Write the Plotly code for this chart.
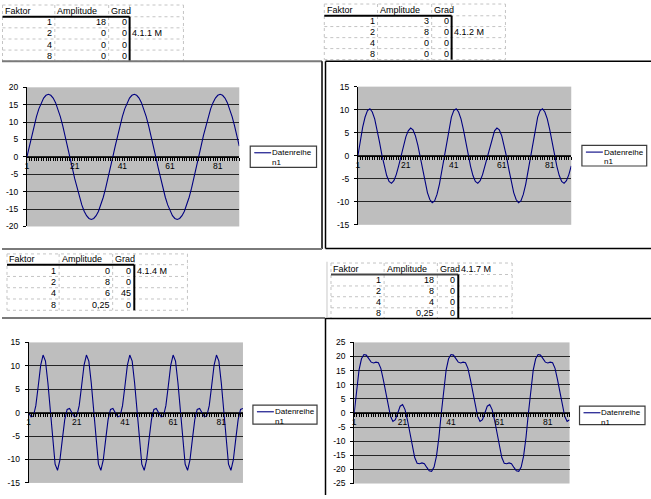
import plotly.graph_objects as go

W, H = 651, 499
SCHRIFT = "Liberation Sans, Arial, sans-serif"


def px(x):
    return x / W


def py(y):
    return 1 - y / H


# Kategorien (Messpunkte) und Achsenbeschriftungen
kategorien = list(range(1, 91))
x_ticks = [1, 21, 41, 61, 81]

y_ticks_411 = [-20, -15, -10, -5, 0, 5, 10, 15, 20]
y_ticks_412 = [-15, -10, -5, 0, 5, 10, 15]
y_ticks_414 = [-15, -10, -5, 0, 5, 10, 15]
y_ticks_417 = [-25, -20, -15, -10, -5, 0, 5, 10, 15, 20, 25]

reihe_411 = [
    0, 3.1, 6.2, 9.0, 11.6, 13.8, 15.6, 16.9, 17.7, 18.0, 17.7, 16.9, 15.6, 13.8, 11.6, 9.0, 6.2, 3.1,
    0, -3.1, -6.2, -9.0, -11.6, -13.8, -15.6, -16.9, -17.7, -18.0, -17.7, -16.9, -15.6, -13.8, -11.6, -9.0, -6.2, -3.1,
    0, 3.1, 6.2, 9.0, 11.6, 13.8, 15.6, 16.9, 17.7, 18.0, 17.7, 16.9, 15.6, 13.8, 11.6, 9.0, 6.2, 3.1,
    0, -3.1, -6.2, -9.0, -11.6, -13.8, -15.6, -16.9, -17.7, -18.0, -17.7, -16.9, -15.6, -13.8, -11.6, -9.0, -6.2, -3.1,
    0, 3.1, 6.2, 9.0, 11.6, 13.8, 15.6, 16.9, 17.7, 18.0, 17.7, 16.9, 15.6, 13.8, 11.6, 9.0, 6.2, 3.1,
]
reihe_412 = [
    0, 3.3, 6.2, 8.4, 9.8, 10.2, 9.5, 8.0, 5.7, 3.0, 0.2, -2.3, -4.3, -5.6, -6.0, -5.4, -4.1, -2.2,
    0, 2.2, 4.1, 5.4, 6.0, 5.6, 4.3, 2.3, -0.2, -3.0, -5.7, -8.0, -9.5, -10.2, -9.8, -8.4, -6.2, -3.3,
    0, 3.3, 6.2, 8.4, 9.8, 10.2, 9.5, 8.0, 5.7, 3.0, 0.2, -2.3, -4.3, -5.6, -6.0, -5.4, -4.1, -2.2,
    0, 2.2, 4.1, 5.4, 6.0, 5.6, 4.3, 2.3, -0.2, -3.0, -5.7, -8.0, -9.5, -10.2, -9.8, -8.4, -6.2, -3.3,
    0, 3.3, 6.2, 8.4, 9.8, 10.2, 9.5, 8.0, 5.7, 3.0, 0.2, -2.3, -4.3, -5.6, -6.0, -5.4, -4.1, -2.2,
]
reihe_414 = [
    0, -0.9, -0.7, 1.5, 5.7, 10.1, 12.3, 11.0, 6.4, 0, -6.4, -11.0, -12.3, -10.1, -5.7, -1.5, 0.7, 0.9,
    0, -0.9, -0.7, 1.5, 5.7, 10.1, 12.3, 11.0, 6.4, 0, -6.4, -11.0, -12.3, -10.1, -5.7, -1.5, 0.7, 0.9,
    0, -0.9, -0.7, 1.5, 5.7, 10.1, 12.3, 11.0, 6.4, 0, -6.4, -11.0, -12.3, -10.1, -5.7, -1.5, 0.7, 0.9,
    0, -0.9, -0.7, 1.5, 5.7, 10.1, 12.3, 11.0, 6.4, 0, -6.4, -11.0, -12.3, -10.1, -5.7, -1.5, 0.7, 0.9,
    0, -0.9, -0.7, 1.5, 5.7, 10.1, 12.3, 11.0, 6.4, 0, -6.4, -11.0, -12.3, -10.1, -5.7, -1.5, 0.7, 0.9,
]
reihe_417 = [
    0, 8.7, 15.3, 19.2, 20.7, 20.5, 19.3, 18.0, 17.7, 18.0, 17.8, 15.8, 11.9, 7.1, 2.5, -1.2, -3.0, -2.4,
    0, 2.4, 3.0, 1.2, -2.5, -7.1, -11.9, -15.8, -17.8, -18.0, -17.7, -18.0, -19.3, -20.5, -20.7, -19.2, -15.3, -8.7,
    0, 8.7, 15.3, 19.2, 20.7, 20.5, 19.3, 18.0, 17.7, 18.0, 17.8, 15.8, 11.9, 7.1, 2.5, -1.2, -3.0, -2.4,
    0, 2.4, 3.0, 1.2, -2.5, -7.1, -11.9, -15.8, -17.8, -18.0, -17.7, -18.0, -19.3, -20.5, -20.7, -19.2, -15.3, -8.7,
    0, 8.7, 15.3, 19.2, 20.7, 20.5, 19.3, 18.0, 17.7, 18.0, 17.8, 15.8, 11.9, 7.1, 2.5, -1.2, -3.0, -2.4,
]
reihe_name = ["Datenreihe", "n1"]

# Tabellen
kopf = ["Faktor", "Amplitude", "Grad"]
faktor = [1, 2, 4, 8]
amplitude_411 = [18, 0, 0, 0]
grad_411 = [0, 0, 0, 0]
amplitude_412 = [3, 8, 0, 0]
grad_412 = [0, 0, 0, 0]
amplitude_414 = [0, 8, 6, 0.25]
grad_414 = [0, 0, 45, 0]
amplitude_417 = [18, 8, 4, 0.25]
grad_417 = [0, 0, 0, 0]
marken = ["4.1.1 M", "4.1.2 M", "4.1.4 M", "4.1.7 M"]

# Layout: Plotfläche (links, oben, rechts, unten) und Legendenbox in Pixeln
plotflaechen = [(25, 84, 238, 226), (357, 83.3, 571, 224.3),
                (26.7, 344.3, 241.7, 487.7), (353.3, 344.3, 569.3, 488.3)]
legenden = [(249, 144, 315.5, 165.7), (581.7, 143.3, 646.7, 164.3),
            (251.7, 408.3, 316, 427.7), (579.3, 409.3, 645, 428.3)]

fig = go.Figure()
shapes = []
annotations = []


def linie(x0, y0, x1, y1, farbe="black", breite=1, dash="solid"):
    shapes.append(dict(type="line", xref="paper", yref="paper",
                       x0=px(x0), y0=py(y0), x1=px(x1), y1=py(y1),
                       line=dict(color=farbe, width=breite, dash=dash)))


def text(t, x, y, xanchor="left", groesse=9):
    annotations.append(dict(text=t, x=px(x), y=py(y), xref="paper", yref="paper",
                            xanchor=xanchor, yanchor="middle", showarrow=False,
                            font=dict(family=SCHRIFT, size=groesse, color="black")))


def zahl(v):
    return str(v).replace(".", ",")


serien = [reihe_411, reihe_412, reihe_414, reihe_417]
y_achsen = [y_ticks_411, y_ticks_412, y_ticks_414, y_ticks_417]

for i, (werte, yt) in enumerate(zip(serien, y_achsen)):
    n = i + 1
    suffix = "" if n == 1 else str(n)
    l, t, r, b = plotflaechen[i]
    fig.add_trace(go.Scatter(x=kategorien, y=werte, mode="lines",
                             line=dict(color="#000080", width=1.1),
                             xaxis="x" + suffix, yaxis="y" + suffix,
                             showlegend=False, hoverinfo="skip"))
    mitte = (py(t) + py(b)) / 2
    fig.update_layout(**{
        "xaxis" + suffix: dict(
            domain=[px(l), px(r)], range=[1, 90], anchor="free", position=mitte,
            showgrid=False, zeroline=False, showline=True, linecolor="black", linewidth=1,
            tickmode="array", tickvals=x_ticks, ticktext=[str(v) for v in x_ticks],
            ticks="outside", ticklen=3, tickcolor="black", tickwidth=1,
            ticklabelstandoff=-2,
            minor=dict(tickmode="array", tickvals=kategorien, ticks="outside",
                       ticklen=3, tickcolor="black", tickwidth=1, showgrid=False),
            tickfont=dict(family=SCHRIFT, size=8.5, color="black"), fixedrange=True),
        "yaxis" + suffix: dict(
            domain=[py(b), py(t)], range=[yt[0], yt[-1]], anchor="x" + suffix, side="left",
            tickmode="array", tickvals=yt, ticktext=[str(v) for v in yt],
            ticks="outside", ticklen=3, tickcolor="black", tickwidth=1,
            ticklabelstandoff=3,
            showgrid=False, zeroline=False, showline=True, linecolor="black", linewidth=1,
            minor=dict(tickmode="array", tickvals=yt[1:-1], showgrid=True,
                       gridcolor="#262626", gridwidth=1, ticks=""),
            tickfont=dict(family=SCHRIFT, size=8.5, color="black"), fixedrange=True),
    })

    # Legende
    lx0, ly0, lx1, ly1 = legenden[i]
    shapes.append(dict(type="rect", xref="paper", yref="paper",
                       x0=px(lx0), y0=py(ly1), x1=px(lx1), y1=py(ly0),
                       line=dict(color="#3c3c3c", width=1.2), fillcolor="white"))
    zy = ly0 + 6.8
    linie(lx0 + 4, zy, lx0 + 21, zy, "#000080", 1.1)
    text(reihe_name[0], lx0 + 20, zy, groesse=8)
    text(reihe_name[1], lx0 + 20, zy + 9.5, groesse=8)


def tabelle(cols, rows, amplitude, grad, marke, marke_zeile, kopf_farbe="black"):
    grau = "#c4c4c4"
    for x in cols:
        linie(x, rows[0], x, rows[-1], grau, 1, "dot")
    for y in rows:
        linie(cols[0], y, cols[-1], y, grau, 1, "dot")
    linie(cols[0], rows[1], cols[3], rows[1], kopf_farbe, 2)
    linie(cols[3], rows[1], cols[3], rows[-1], "black", 2)
    kopf_y = (rows[0] + rows[1]) / 2
    for j, k in enumerate(kopf):
        text(k, cols[j] + 0.5, kopf_y)
    for z, spalte in enumerate([faktor, amplitude, grad]):
        for i, v in enumerate(spalte):
            text(zahl(v), cols[z + 1] - 1, (rows[i + 1] + rows[i + 2]) / 2, xanchor="right")
    text(marke, cols[3] + 0.5, (rows[marke_zeile + 1] + rows[marke_zeile + 2]) / 2)


tabelle([0.5, 53, 107, 128, 182], [0, 12, 23.3, 34.7, 46, 57.3],
        amplitude_411, grad_411, marken[0], 1)
tabelle([323.3, 376.7, 431, 451, 505], [-1, 11, 22, 33.3, 44.5, 55.7],
        amplitude_412, grad_412, marken[1], 1)
tabelle([5, 57.3, 111, 132.7, 186], [254, 265, 277, 288.5, 300, 311.5],
        amplitude_414, grad_414, marken[2], 0)
tabelle([330, 383.3, 436.7, 457.7, 511.7], [263.3, 275, 286.7, 297.7, 309, 320],
        amplitude_417, grad_417, marken[3], -1, kopf_farbe="#444444")

# Diagrammrahmen
linie(0, 57.5, 321, 57.5, "#7a7a7a", 2)
linie(321, 57.5, 321, 249, "black", 1.5)
linie(0, 249, 321, 249, "#7a7a7a", 2)
linie(324.5, 57.5, 652, 57.5, "black", 1.5)
linie(324.5, 57.5, 324.5, 248.5, "black", 1.5)
linie(324.5, 248.5, 652, 248.5, "black", 1.5)
linie(0, 319.5, 324, 319.5, "#7a7a7a", 2)
linie(324.5, 319.5, 324.5, 500, "black", 1.5)
linie(324.5, 320, 652, 320, "black", 1.5)
linie(326, 262, 326, 319, "#c8c8c8", 1)

fig.update_layout(
    width=W, height=H, autosize=False,
    margin=dict(l=0, r=0, t=0, b=0),
    paper_bgcolor="white", plot_bgcolor="#bebebe",
    showlegend=False, hovermode=False,
    font=dict(family=SCHRIFT, size=9, color="black"),
    shapes=shapes, annotations=annotations,
)

# Seitenrand des Browsers entfernen, damit die Grafik genau das Fenster füllt
fig.write_html("out.html", config={"displayModeBar": False},
               post_script="document.body.style.margin='0';document.body.style.overflow='hidden';")
